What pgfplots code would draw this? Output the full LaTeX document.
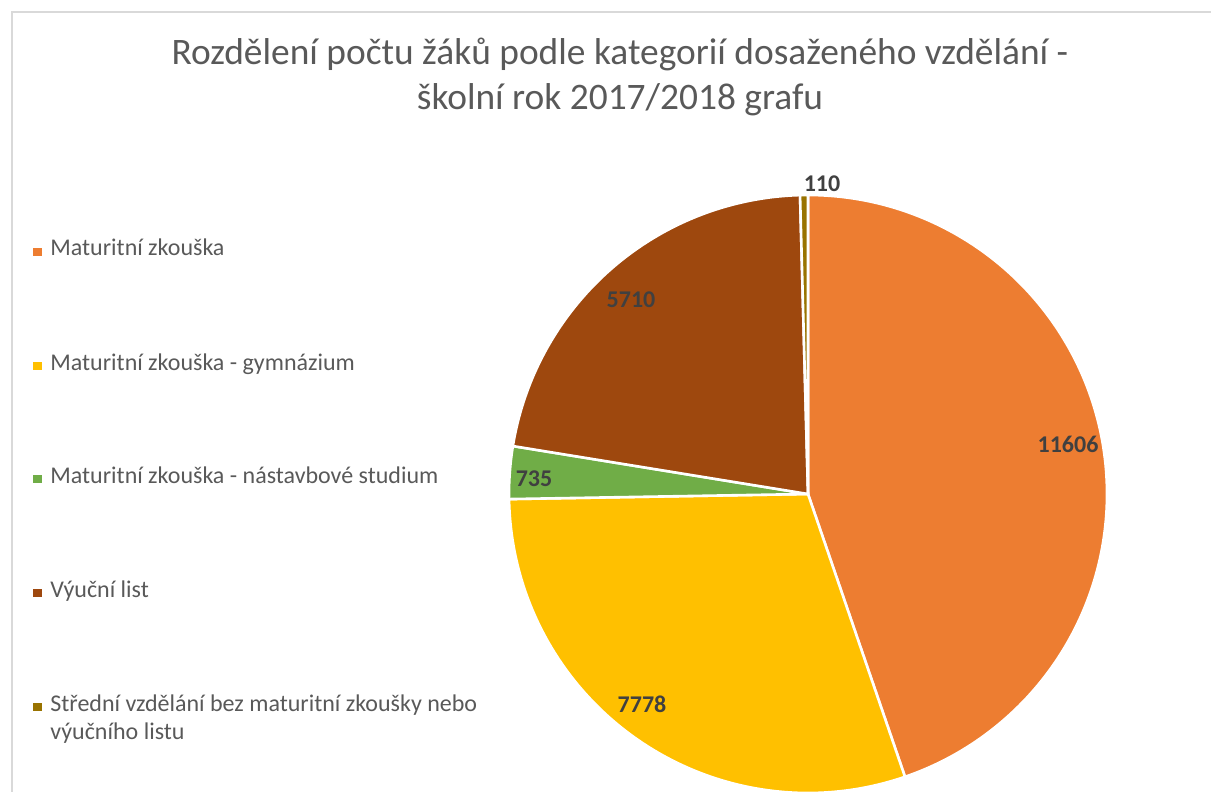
\documentclass[border=0pt]{standalone}
\usepackage{fontspec}
\setmainfont{Carlito}
\usepackage{pgfplots}
\usepackage{pgfplotstable}
\pgfplotsset{compat=1.18}
\definecolor{c1}{HTML}{ED7D31}
\definecolor{c2}{HTML}{FFC000}
\definecolor{c3}{HTML}{70AD47}
\definecolor{c4}{HTML}{9E480E}
\definecolor{c5}{HTML}{997300}
\definecolor{txt}{HTML}{595959}
\definecolor{lbl}{HTML}{404040}
\definecolor{frm}{HTML}{D9D9D9}

\pgfplotstableread{
value
11606
7778
735
5710
110
}\piedata

\begin{document}%
\begin{tikzpicture}
\pgfplotstablegetelem{0}{value}\of\piedata \let\va\pgfplotsretval
\pgfplotstablegetelem{1}{value}\of\piedata \let\vb\pgfplotsretval
\pgfplotstablegetelem{2}{value}\of\piedata \let\vc\pgfplotsretval
\pgfplotstablegetelem{3}{value}\of\piedata \let\vd\pgfplotsretval
\pgfplotstablegetelem{4}{value}\of\piedata \let\ve\pgfplotsretval
\pgfmathsetmacro{\T}{\va/1000+\vb/1000+\vc/1000+\vd/1000+\ve/1000}
\pgfmathsetmacro{\aA}{90}
\pgfmathsetmacro{\aB}{\aA-360*(\va/1000)/\T}
\pgfmathsetmacro{\aC}{\aB-360*(\vb/1000)/\T}
\pgfmathsetmacro{\aD}{\aC-360*(\vc/1000)/\T}
\pgfmathsetmacro{\aE}{\aD-360*(\vd/1000)/\T}
\pgfmathsetmacro{\aF}{\aE-360*(\ve/1000)/\T}
\begin{axis}[
  scale only axis, width=605.5pt, height=396pt,
  xmin=0, xmax=1211, ymin=0, ymax=792, y dir=reverse,
  hide axis, ticks=none, clip mode=individual,
]
\coordinate (BL) at (rel axis cs:0,0);
\coordinate (TR) at (rel axis cs:1,1);
\draw[frm, line width=1pt] (12,792) -- (12,12) -- (1211,12);
% pie slices
\addplot[fill=c1, draw=white, line width=1.3pt, domain=\aB:\aA, samples=150]
  ({808+299*cos(x)}, {494-299*sin(x)}) -- (808,494) -- cycle;
\addplot[fill=c2, draw=white, line width=1.3pt, domain=\aC:\aB, samples=120]
  ({808+299*cos(x)}, {494-299*sin(x)}) -- (808,494) -- cycle;
\addplot[fill=c3, draw=white, line width=1.3pt, domain=\aD:\aC, samples=20]
  ({808+299*cos(x)}, {494-299*sin(x)}) -- (808,494) -- cycle;
\addplot[fill=c4, draw=white, line width=1.3pt, domain=\aE:\aD, samples=100]
  ({808+299*cos(x)}, {494-299*sin(x)}) -- (808,494) -- cycle;
\addplot[fill=c5, draw=white, line width=1.3pt, domain=\aF:\aE, samples=10]
  ({808+299*cos(x)}, {494-299*sin(x)}) -- (808,494) -- cycle;
% data labels
\begin{scope}[every node/.style={font=\fontsize{12pt}{14pt}\selectfont\bfseries, text=lbl, inner sep=0pt}]
\node at (1068,444) {11606};
\node at (642,704) {7778};
\node at (534,479) {735};
\node at (631,300) {5710};
\node at (822,184) {110};
\end{scope}
% title
\node[font=\fontsize{18.7pt}{22.5pt}\selectfont, text=txt, align=center, anchor=base, inner sep=0pt]
  at (620,110) {Rozdělení počtu žáků podle kategorií dosaženého vzdělání -\\školní rok 2017/2018 grafu};
% legend
\begin{scope}[every node/.style={font=\fontsize{12pt}{14pt}\selectfont, text=txt, inner sep=0pt, anchor=base west, align=left}]
\node[fill=c1, minimum size=4.2pt] at (33,252) {};
\node at (50,256) {Maturitní zkouška};
\node[fill=c2, minimum size=4.2pt] at (33,366) {};
\node at (50,370) {Maturitní zkouška - gymnázium};
\node[fill=c3, minimum size=4.2pt] at (33,479) {};
\node at (50,483) {Maturitní zkouška - nástavbové studium};
\node[fill=c4, minimum size=4.2pt] at (33,593) {};
\node at (50,597) {Výuční list};
\node[fill=c5, minimum size=4.2pt] at (33,707) {};
\node at (50,739) {Střední vzdělání bez maturitní zkoušky nebo\\výučního listu};
\end{scope}
\end{axis}
\pgfresetboundingbox
\path (BL) rectangle (TR);
\end{tikzpicture}%
\end{document}
